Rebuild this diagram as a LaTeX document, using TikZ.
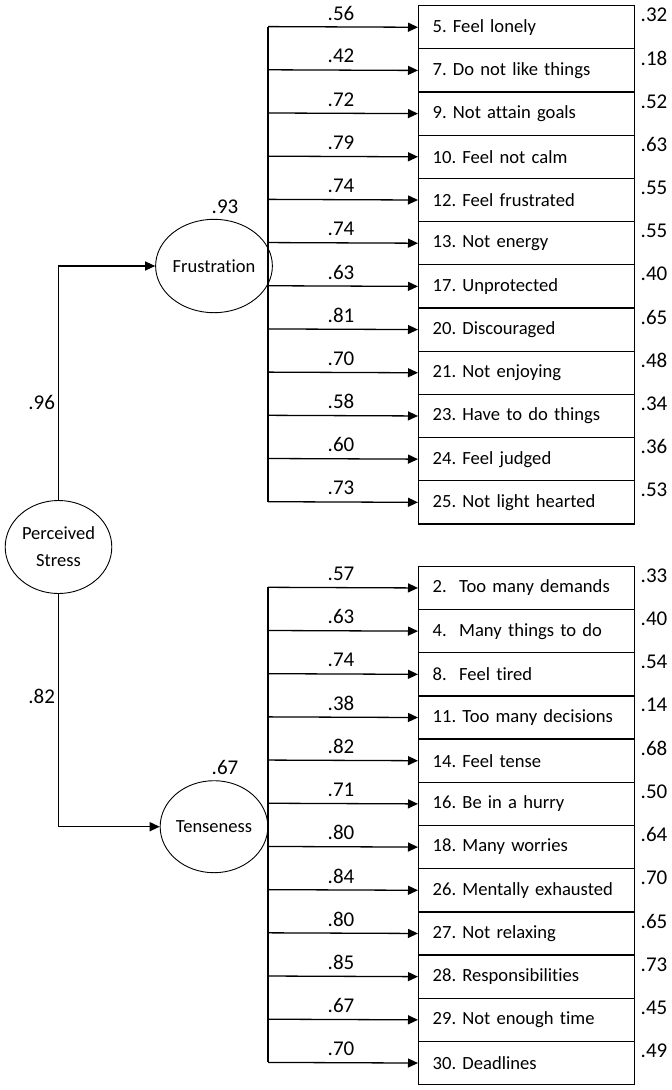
\documentclass[tikz,border=0pt]{standalone}
\usepackage{fontspec}
\setmainfont[Ligatures=NoCommon]{Carlito}
\frenchspacing
\usetikzlibrary{arrows.meta,shapes.geometric}
\begin{document}
\begin{tikzpicture}[x=1pt,y=-1pt,
  itembox/.style={draw, line width=1.3pt, rectangle, minimum height=43.19pt,
    text width=188pt, inner xsep=14pt, inner ysep=0pt, align=left,
    font=\fontsize{18.6}{22}\selectfont, anchor=north west},
  num/.style={inner sep=0pt, font=\fontsize{21}{24}\selectfont},
  latent/.style={draw, line width=0.9pt, ellipse, inner sep=0pt,
    minimum width=106.6pt, font=\fontsize{18.5}{27}\selectfont, align=center},
  conn/.style={line width=1.3pt},
  arr/.style={line width=1.3pt, -{Triangle[length=10pt,width=9pt]}}
]
\useasboundingbox (0,0) rectangle (672,1090);

% latent variables
\node[latent, minimum height=93pt] (PS) at (58.5,547) {Perceived\\Stress};
\node[latent, minimum height=93.4pt] (F) at (214,266) {Frustration};
\node[latent, minimum height=92pt] (T) at (214,826.7) {Tenseness};

\node[num] (lF) at (225,206.7) {.93};
\node[num] (lT) at (225,767.3) {.67};
\node[num] (lPF) at (41.7,402.7) {.96};
\node[num] (lPT) at (41.7,696.7) {.82};

\draw[arr] (PS.north) |- (F.west);
\draw[arr] (PS.south) |- (T.west);

% Frustration items
\foreach \txt/\ld/\rs [count=\k from 0] in {
  {5. Feel lonely}/.56/.32,
  {7. Do not like things}/.42/.18,
  {9. Not attain goals}/.72/.52,
  {10. Feel not calm}/.79/.63,
  {12. Feel frustrated}/.74/.55,
  {13. Not energy}/.74/.55,
  {17. Unprotected}/.63/.40,
  {20. Discouraged}/.81/.65,
  {21. Not enjoying}/.70/.48,
  {23. Have to do things}/.58/.34,
  {24. Feel judged}/.60/.36,
  {25. Not light hearted}/.73/.53}{
  \pgfmathsetmacro\yt{5+\k*43.19}
  \node[itembox] (t\k) at (418,\yt) {\txt};
  \coordinate (ts\k) at (268,\yt+21.6);
  \draw[arr] (ts\k) -- (t\k.west);
  \node[num] (tl\k) at (341,\yt+8) {\ld};
  \node[num] (tr\k) at (654,\yt+10) {\rs};
}
\draw[conn] (ts0) -- (ts11);

% Tenseness items
\foreach \txt/\ld/\rs [count=\k from 0] in {
  {2.\ \ Too many demands}/.57/.33,
  {4.\ \ Many things to do}/.63/.40,
  {8.\ \ Feel tired}/.74/.54,
  {11. Too many decisions}/.38/.14,
  {14. Feel tense}/.82/.68,
  {16. Be in a hurry}/.71/.50,
  {18. Many worries}/.80/.64,
  {26. Mentally exhausted}/.84/.70,
  {27. Not relaxing}/.80/.65,
  {28. Responsibilities}/.85/.73,
  {29. Not enough time}/.67/.45,
  {30. Deadlines}/.70/.49}{
  \pgfmathsetmacro\yt{565.7+\k*43.19}
  \node[itembox] (b\k) at (418,\yt) {\txt};
  \coordinate (bs\k) at (268,\yt+21.6);
  \draw[arr] (bs\k) -- (b\k.west);
  \node[num] (bl\k) at (341,\yt+8) {\ld};
  \node[num] (br\k) at (654,\yt+10) {\rs};
}
\draw[conn] (bs0) -- (bs11);
\end{tikzpicture}
\end{document}
